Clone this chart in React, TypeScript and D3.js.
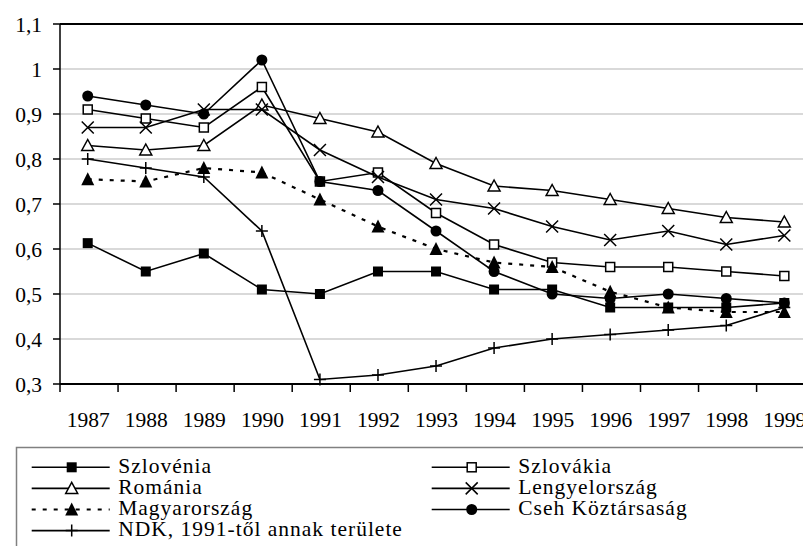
import React from "react";
import * as d3 from "d3";

const years = ["1987","1988","1989","1990","1991","1992","1993","1994","1995","1996","1997","1998","1999"];
const yTicks = [0.3,0.4,0.5,0.6,0.7,0.8,0.9,1.0,1.1];

const szlovenia = [0.613,0.55,0.59,0.51,0.50,0.55,0.55,0.51,0.51,0.47,0.47,0.47,0.48];
const szlovakia = [0.91,0.89,0.87,0.96,0.75,0.77,0.68,0.61,0.57,0.56,0.56,0.55,0.54];
const romania = [0.83,0.82,0.83,0.92,0.89,0.86,0.79,0.74,0.73,0.71,0.69,0.67,0.66];
const lengyel = [0.87,0.87,0.91,0.91,0.82,0.76,0.71,0.69,0.65,0.62,0.64,0.61,0.63];
const magyar = [0.755,0.75,0.78,0.77,0.71,0.65,0.60,0.57,0.56,0.505,0.47,0.46,0.46];
const cseh = [0.94,0.92,0.90,1.02,0.75,0.73,0.64,0.55,0.50,0.49,0.50,0.49,0.48];
const ndk = [0.80,0.78,0.76,0.64,0.31,0.32,0.34,0.38,0.40,0.41,0.42,0.43,0.47];

type Marker = "fsquare" | "osquare" | "otri" | "x" | "ftri" | "circle" | "plus";
const seriesNames = ["Szlovénia","Szlovákia","Románia","Lengyelország","Magyarország","Cseh Köztársaság","NDK, 1991-től annak területe"];
const seriesValues = [szlovenia, szlovakia, romania, lengyel, magyar, cseh, ndk];
const seriesMarkers: Marker[] = ["fsquare","osquare","otri","x","ftri","circle","plus"];
const seriesDashed = [false,false,false,false,true,false,false];

const FONT = "Liberation Serif, Times New Roman, DejaVu Serif, serif";
const textStyle: React.CSSProperties = { fontFamily: FONT, fontSize: "21.5px" };
const legendTextStyle: React.CSSProperties = { fontFamily: FONT, fontSize: "21.5px", letterSpacing: "1px" };

function MarkerShape({ type, x, y }: { type: Marker; x: number; y: number }) {
  switch (type) {
    case "fsquare":
      return <rect x={x - 5} y={y - 5} width={10} height={10} fill="#000" />;
    case "osquare":
      return <rect x={x - 4.5} y={y - 4.5} width={9} height={9} fill="#fff" stroke="#000" strokeWidth={1.5} />;
    case "otri":
      return <path d={`M${x},${y - 6}L${x + 6},${y + 5}L${x - 6},${y + 5}Z`} fill="#fff" stroke="#000" strokeWidth={1.5} />;
    case "ftri":
      return <path d={`M${x},${y - 7}L${x + 6.5},${y + 6}L${x - 6.5},${y + 6}Z`} fill="#000" />;
    case "circle":
      return <circle cx={x} cy={y} r={5.5} fill="#000" />;
    case "x":
      return <path d={`M${x - 6},${y - 6}L${x + 6},${y + 6}M${x + 6},${y - 6}L${x - 6},${y + 6}`} stroke="#000" strokeWidth={1.5} fill="none" />;
    case "plus":
      return <path d={`M${x - 6},${y}L${x + 6},${y}M${x},${y - 6}L${x},${y + 6}`} stroke="#000" strokeWidth={1.5} fill="none" />;
  }
}

export default function App() {
  const W = 803, H = 546;
  const left = 60, top = 24, bottom = 384;
  const step = 58.05;
  const x = d3.scaleBand<string>().domain(years).range([left, left + step * years.length]).padding(0);
  const y = d3.scaleLinear().domain([0.3, 1.1]).range([bottom, top]);
  const cx = (yr: string) => (x(yr) as number) + x.bandwidth() / 2 - 1.3;
  const line = d3.line<number>().x((_, i) => cx(years[i])).y((v) => y(v));

  const legendRows = [
    { col: 0, row: 0, s: 0 },
    { col: 1, row: 0, s: 1 },
    { col: 0, row: 1, s: 2 },
    { col: 1, row: 1, s: 3 },
    { col: 0, row: 2, s: 4 },
    { col: 1, row: 2, s: 5 },
    { col: 0, row: 3, s: 6 },
  ];

  const fmt = (t: number) => (Math.abs(t - 1) < 1e-9 ? "1" : d3.format(".1f")(t).replace(".", ","));

  return (
    <svg width={W} height={H} style={{ position: "absolute", left: 0, top: 0, background: "#fff" }}>
      <rect x={0} y={0} width={W} height={H} fill="#fff" />
      {yTicks.map((t) => (
        <line key={t} x1={left} x2={W} y1={y(t)} y2={y(t)} stroke={t === 1.1 ? "#000" : "#b4b4b4"} strokeWidth={t === 1.1 ? 2 : 1.2} />
      ))}
      <line x1={left} x2={left} y1={top} y2={bottom} stroke="#000" strokeWidth={1.5} />
      <line x1={left} x2={W} y1={bottom} y2={bottom} stroke="#000" strokeWidth={2} />
      {yTicks.map((t) => (
        <g key={"yt" + t}>
          <line x1={left - 7} x2={left} y1={y(t)} y2={y(t)} stroke="#000" strokeWidth={1.5} />
          <text x={42} y={y(t)} dy="0.35em" textAnchor="end" style={textStyle} fill="#000">{fmt(t)}</text>
        </g>
      ))}
      {years.map((yr) => (
        <g key={"xt" + yr}>
          <line x1={x(yr) as number} x2={x(yr) as number} y1={bottom} y2={bottom + 8} stroke="#000" strokeWidth={1.5} />
          <text x={cx(yr) + 0.5} y={427} textAnchor="middle" style={textStyle} fill="#000">{yr}</text>
        </g>
      ))}
      {seriesValues.map((vals, si) => (
        <g key={"s" + si}>
          <path d={line(vals) || ""} fill="none" stroke="#000" strokeWidth={seriesDashed[si] ? 2.2 : 1.6}
            strokeDasharray={seriesDashed[si] ? "4,7" : undefined} />
          {vals.map((v, i) => (
            <MarkerShape key={i} type={seriesMarkers[si]} x={cx(years[i])} y={y(v)} />
          ))}
        </g>
      ))}
      <rect x={16.5} y={447.5} width={900} height={200} fill="#fff" stroke="#808080" strokeWidth={1.5} />
      {legendRows.map(({ col, row, s }) => {
        const x0 = col === 0 ? 31.7 : 431.7;
        const ly = 467.3 + row * 21.1;
        return (
          <g key={"lg" + s}>
            <line x1={x0} x2={x0 + 78} y1={ly} y2={ly} stroke="#000" strokeWidth={seriesDashed[s] ? 2.2 : 1.6}
              strokeDasharray={seriesDashed[s] ? "4,7" : undefined} />
            <MarkerShape type={seriesMarkers[s]} x={x0 + 40} y={ly} />
            <text x={x0 + 86.5} y={ly} dy="0.25em" style={legendTextStyle} fill="#000">{seriesNames[s]}</text>
          </g>
        );
      })}
    </svg>
  );
}
